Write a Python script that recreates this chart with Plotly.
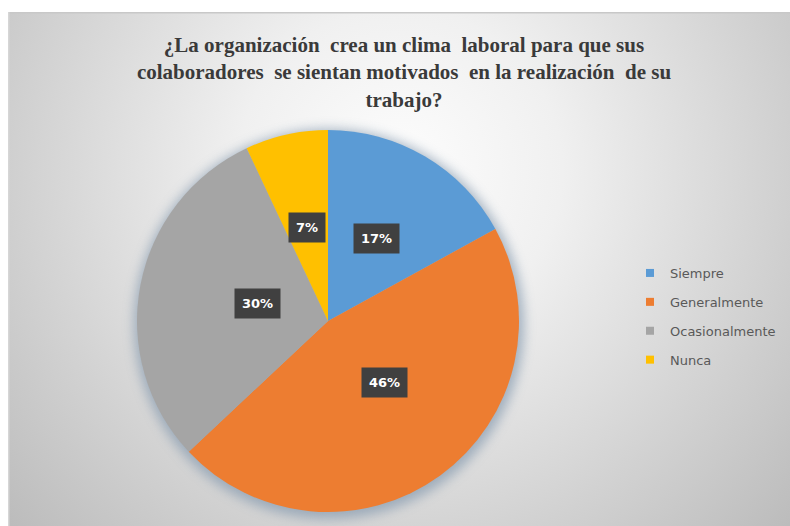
import base64
import math
import plotly.graph_objects as go

# Survey answers (percent of respondents)
categories = ["Siempre", "Generalmente", "Ocasionalmente", "Nunca"]
percentages = [17, 46, 30, 7]
colors = ["#5B9BD5", "#ED7D31", "#A5A5A5", "#FFC000"]
title_lines = [
    "¿La organización  crea un clima  laboral para que sus",
    "colaboradores  se sientan motivados  en la realización  de su",
    "trabajo?",
]

W, H = 790, 526
# chart-area frame (pixels)
FX0, FY0 = 8, 12
# pie geometry (pixels)
CX, CY, R = 328, 321, 191

# Background: soft radial gradient with a blurred halo behind the pie
fw, fh = W - FX0, H - FY0
svg = f"""<svg xmlns='http://www.w3.org/2000/svg' width='{fw}' height='{fh}' viewBox='0 0 {fw} {fh}'>
<defs>
<radialGradient id='g' gradientUnits='userSpaceOnUse' cx='{400 - FX0}' cy='{170 - FY0}' r='540'>
<stop offset='0' stop-color='#fdfdfd'/>
<stop offset='0.3' stop-color='#f0f0f0'/>
<stop offset='1' stop-color='#bababa'/>
</radialGradient>
<filter id='b' x='-20%' y='-20%' width='140%' height='140%'><feGaussianBlur stdDeviation='6'/></filter>
</defs>
<rect x='0' y='0' width='{fw}' height='{fh}' fill='url(#g)'/>
<rect x='0' y='0' width='{fw}' height='1.5' fill='#c8c8c8'/>
<rect x='0' y='0' width='1.5' height='{fh}' fill='#d6d6d6'/>
<circle cx='{CX - FX0 + 1}' cy='{CY - FY0 + 3}' r='{R + 4}' fill='#8499ae' opacity='0.7' filter='url(#b)'/>
</svg>"""
bg_uri = "data:image/svg+xml;base64," + base64.b64encode(svg.encode()).decode()

fig = go.Figure()

fig.add_trace(go.Pie(
    labels=categories,
    values=percentages,
    marker=dict(colors=colors, line=dict(width=0)),
    sort=False,
    direction="clockwise",
    rotation=0,
    textinfo="none",
    hoverinfo="label+percent",
    showlegend=False,
    domain=dict(x=[(CX - R) / W, (CX + R) / W],
                y=[1 - (CY + R) / H, 1 - (CY - R) / H]),
))

# Legend entries (one group each so the spacing can be opened up)
for name, col in zip(categories, colors):
    fig.add_trace(go.Scatter(
        x=[None], y=[None], mode="markers", name=name,
        legendgroup=name,
        marker=dict(symbol="square", size=8, color=col),
        hoverinfo="skip",
    ))

# Value labels at half radius in the middle of each slice
total = sum(percentages)
annotations = []
cum = 0
for p in percentages:
    mid = (cum + p / 2) / total * 2 * math.pi
    cum += p
    px = CX + 0.5 * R * math.sin(mid)
    py = CY - 0.5 * R * math.cos(mid)
    annotations.append(dict(
        x=px / W, y=1 - py / H, xref="paper", yref="paper",
        text=f"<b>{p}%</b>", showarrow=False,
        font=dict(family="DejaVu Sans", size=13, color="white"),
        bgcolor="#404040", borderpad=7,
    ))

fig.update_layout(
    width=W, height=H,
    margin=dict(l=0, r=0, t=0, b=0),
    paper_bgcolor="white",
    plot_bgcolor="rgba(0,0,0,0)",
    xaxis=dict(visible=False),
    yaxis=dict(visible=False),
    title=dict(
        text="<b>" + "<br>".join(title_lines) + "</b>",
        x=404 / W, xanchor="center",
        y=1 - 52 / H, yanchor="top",
        font=dict(family="Liberation Serif", size=21, color="#3a3a3a"),
    ),
    legend=dict(
        x=630 / W, y=1 - 258 / H, xanchor="left", yanchor="top",
        bgcolor="rgba(0,0,0,0)",
        font=dict(family="DejaVu Sans", size=13, color="#595959"),
        traceorder="grouped", tracegroupgap=9, itemwidth=30,
    ),
    annotations=annotations,
    images=[dict(
        source=bg_uri, xref="paper", yref="paper",
        x=FX0 / W, y=1 - FY0 / H, sizex=fw / W, sizey=fh / H,
        xanchor="left", yanchor="top", sizing="stretch", layer="below",
    )],
)

fig.write_html("out.html")
